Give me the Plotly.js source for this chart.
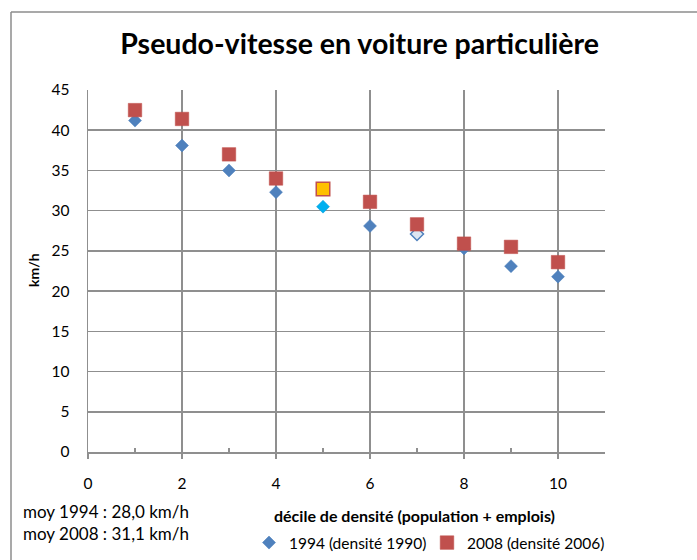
<!DOCTYPE html>
<html>
<head>
<meta charset="utf-8">
<script src="https://cdn.plot.ly/plotly-3.0.1.min.js"></script>
<style>html,body{margin:0;padding:0;background:#fff;}#chart{width:697px;height:560px;}</style>
</head>
<body>
<div id="chart"></div>
<script>
// ---- data ----
const deciles = [1, 2, 3, 4, 5, 6, 7, 8, 9, 10];
const speed1994 = [41.2, 38.1, 35.0, 32.3, 30.5, 28.1, 27.1, 25.3, 23.1, 21.8];
const speed2008 = [42.5, 41.4, 37.0, 34.0, 32.7, 31.1, 28.3, 25.9, 25.5, 23.6];
const name1994 = "1994 (densité 1990)";
const name2008 = "2008 (densité 2006)";
const xTicks = [0, 2, 4, 6, 8, 10];
const xMinorTicks = [1, 3, 5, 7, 9, 11];
const yTicks = [0, 5, 10, 15, 20, 25, 30, 35, 40, 45];
const titleText = "Pseudo-vitesse en voiture particulière";
const xTitle = "décile de densité (population + emplois)";
const yTitle = "km/h";
const avgNotes = ["moy 1994 : 28,0 km/h", "moy 2008 : 31,1 km/h"];

// ---- styles ----
const blue = "#4F81BD", red = "#C0504D";
const fill1994 = deciles.map(d => d === 5 ? "#00B0F0" : (d === 7 ? "#DCE6F2" : blue));
const line1994 = deciles.map(d => d === 5 ? "#1a9fd6" : blue);
const lw1994 = deciles.map(d => d === 7 ? 1.5 : 0.5);
const fill2008 = deciles.map(d => d === 5 ? "#FFC000" : red);
const lw2008 = deciles.map(d => d === 5 ? 1.5 : 0.5);

const FONT = "Lato, 'Open Sans', sans-serif";
const grid = "#8f8f8f";

const traces = [
  {
    x: deciles, y: speed1994, name: name1994, type: "scatter", mode: "markers",
    marker: {symbol: "diamond", size: 10, color: fill1994, line: {color: line1994, width: lw1994}},
    cliponaxis: false
  },
  {
    x: deciles, y: speed2008, name: name2008, type: "scatter", mode: "markers",
    marker: {symbol: "square", size: 13.5, color: fill2008, line: {color: red, width: lw2008}},
    cliponaxis: false
  },
  // invisible trace on the overlay axis that carries the inside minor ticks
  {x: [0, 11], y: [0, 0], xaxis: "x2", yaxis: "y", mode: "markers",
   marker: {opacity: 0}, showlegend: false, hoverinfo: "skip"}
];

const layout = {
  width: 697, height: 560,
  margin: {l: 88, r: 92, t: 90, b: 108, autoexpand: false},
  paper_bgcolor: "#fff", plot_bgcolor: "#fff",
  font: {family: FONT, size: 15, color: "#000"},
  title: {
    text: titleText, font: {family: FONT, size: 28.5, weight: 700, color: "#000"},
    x: 0.516, xanchor: "center", xref: "container",
    y: 0.922, yanchor: "middle", yref: "container"
  },
  xaxis: {
    range: [0, 11], tickvals: xTicks, ticktext: xTicks.map(String),
    showgrid: true, gridcolor: grid, gridwidth: 1.5,
    showline: true, linecolor: grid, linewidth: 1.5,
    ticks: "outside", ticklen: 5, tickcolor: grid, tickwidth: 1.5,
    ticklabelstandoff: 12,
    zeroline: false, fixedrange: true, automargin: false,
    tickfont: {family: FONT, size: 15.5, color: "#000"}
  },
  xaxis2: {
    overlaying: "x", anchor: "y", side: "bottom", matches: "x",
    range: [0, 11], tickvals: xMinorTicks, showticklabels: false,
    showgrid: false, showline: false, zeroline: false,
    ticks: "inside", ticklen: 4, tickcolor: grid, tickwidth: 1.5,
    fixedrange: true, automargin: false
  },
  yaxis: {
    range: [0, 45], tickvals: yTicks, ticktext: yTicks.map(String),
    showgrid: true, gridcolor: grid, gridwidth: 1.5,
    showline: true, linecolor: grid, linewidth: 1.5,
    ticks: "", ticklabelstandoff: 14,
    zeroline: false, fixedrange: true, automargin: false,
    tickfont: {family: FONT, size: 15.5, color: "#000"}
  },
  showlegend: true,
  legend: {
    orientation: "h", x: (249 - 88) / 517, xanchor: "left", y: (452 - 543) / 362, yanchor: "middle",
    font: {family: FONT, size: 15.5, color: "#000"},
    bgcolor: "rgba(0,0,0,0)", borderwidth: 0,
    entrywidth: 133, entrywidthmode: "pixels", itemwidth: 30,
    traceorder: "normal"
  },
  annotations: [
    {text: "<b>" + xTitle + "</b>", xref: "paper", yref: "paper",
     x: (414 - 88) / 517, y: (452 - 515) / 362, xanchor: "center", yanchor: "middle",
     showarrow: false, font: {family: FONT, size: 16, color: "#000"}},
    {text: "<b>" + yTitle + "</b>", xref: "paper", yref: "paper", textangle: -90,
     x: (33 - 88) / 517, y: (452 - 270) / 362, xanchor: "center", yanchor: "middle",
     showarrow: false, font: {family: FONT, size: 14, color: "#000"}},
    {text: avgNotes[0], xref: "paper", yref: "paper",
     x: (21 - 88) / 517, y: (452 - 511) / 362, xanchor: "left", yanchor: "middle",
     showarrow: false, font: {family: FONT, size: 17, color: "#000"}},
    {text: avgNotes[1], xref: "paper", yref: "paper",
     x: (21 - 88) / 517, y: (452 - 533) / 362, xanchor: "left", yanchor: "middle",
     showarrow: false, font: {family: FONT, size: 17, color: "#000"}}
  ],
  shapes: [
    {type: "line", xref: "paper", yref: "paper",
     x0: (11 - 88) / 517, x1: (11 - 88) / 517, y0: (452 - 12) / 362, y1: (452 - 565) / 362,
     line: {color: "#8c8c8c", width: 1.5}},
    {type: "line", xref: "paper", yref: "paper",
     x0: (11 - 88) / 517, x1: (700 - 88) / 517, y0: (452 - 12) / 362, y1: (452 - 12) / 362,
     line: {color: "#8c8c8c", width: 1.5}}
  ]
};

Plotly.newPlot("chart", traces, layout, {displayModeBar: false, staticPlot: true});
</script>
</body>
</html>
